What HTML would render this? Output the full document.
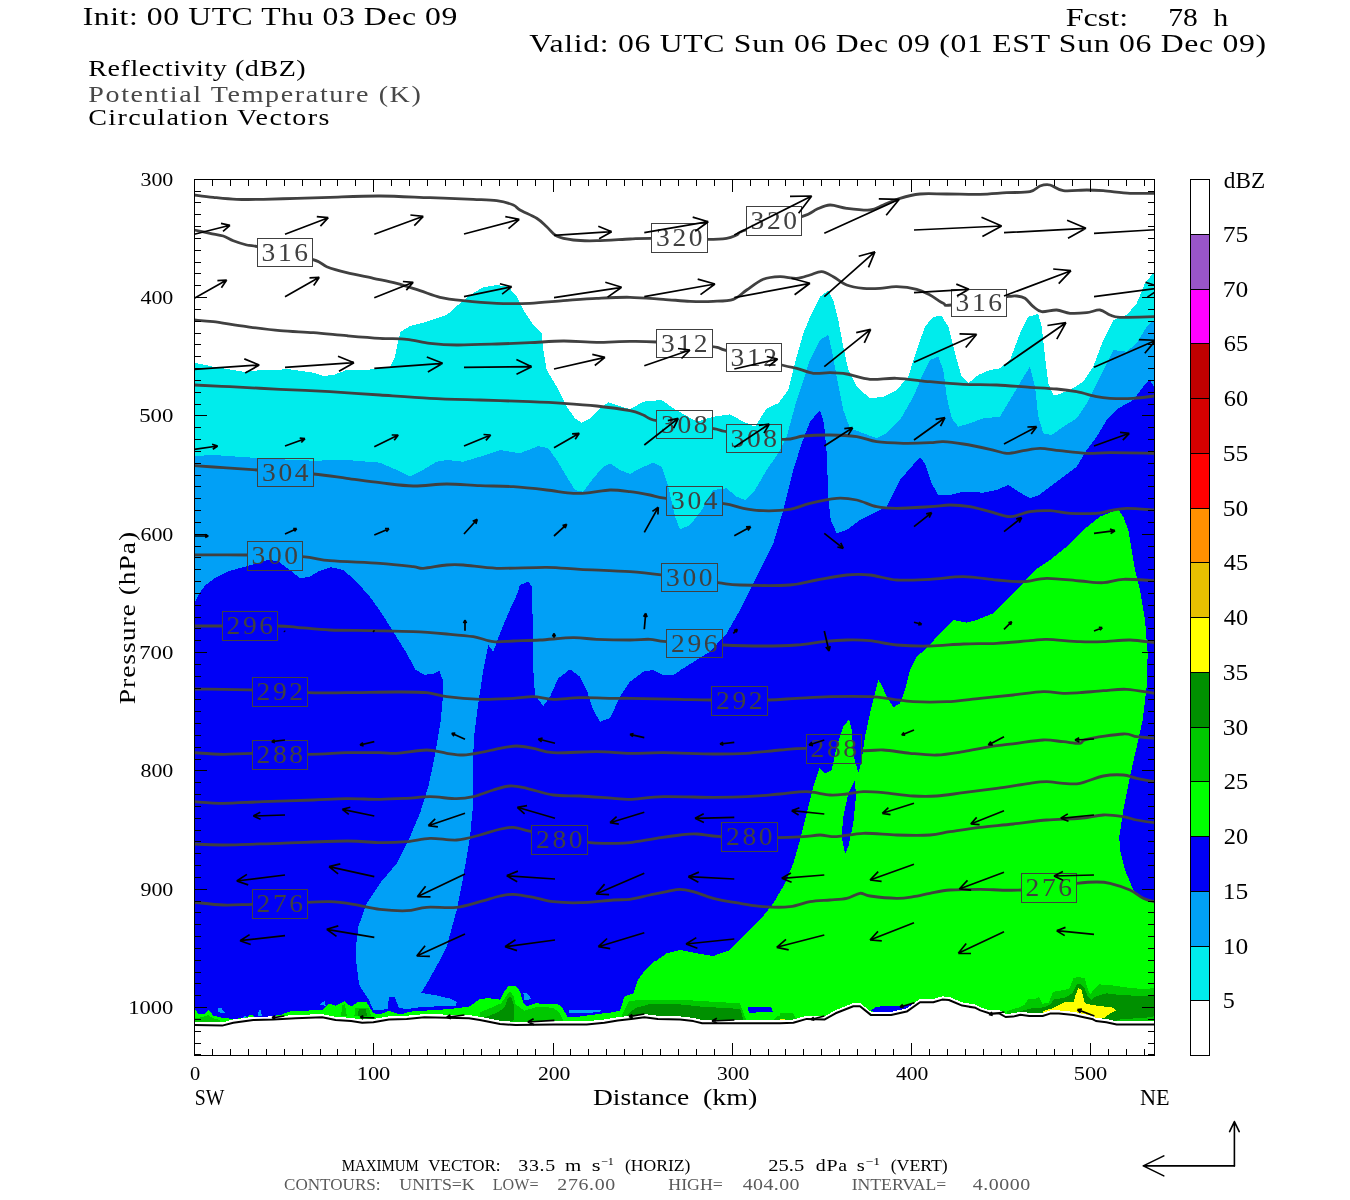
<!DOCTYPE html><html><head><meta charset="utf-8"><title>Cross section</title>
<style>html,body{margin:0;padding:0;background:#fff;overflow:hidden}svg{display:block}text{font-family:'Liberation Serif', serif;}</style></head><body>
<svg width="1350" height="1200" viewBox="0 0 1350 1200">
<rect width="1350" height="1200" fill="#fff"/>
<defs>
<clipPath id="fr"><rect x="194.5" y="179.5" width="960.0" height="876.0"/></clipPath>
<mask id="lm" maskUnits="userSpaceOnUse" x="0" y="0" width="1350" height="1200"><rect width="1350" height="1200" fill="#fff"/>
<rect x="257.3" y="238.7" width="55.0" height="28.0" fill="#000"/>
<rect x="257.3" y="458.3" width="56.0" height="27.7" fill="#000"/>
<rect x="247.7" y="541.7" width="54.7" height="28.3" fill="#000"/>
<rect x="651.0" y="223.3" width="56.3" height="28.7" fill="#000"/>
<rect x="746.0" y="206.7" width="55.7" height="28.3" fill="#000"/>
<rect x="951.7" y="289.3" width="55.0" height="27.3" fill="#000"/>
<rect x="656.7" y="329.3" width="55.7" height="28.0" fill="#000"/>
<rect x="726.7" y="343.3" width="55.0" height="27.7" fill="#000"/>
<rect x="656.7" y="410.0" width="55.7" height="28.3" fill="#000"/>
<rect x="726.7" y="424.0" width="55.0" height="28.7" fill="#000"/>
<rect x="666.0" y="486.7" width="56.3" height="28.3" fill="#000"/>
<rect x="222.3" y="611.7" width="55.3" height="28.7" fill="#000"/>
<rect x="252.7" y="677.3" width="55.0" height="28.7" fill="#000"/>
<rect x="252.7" y="740.7" width="55.0" height="28.7" fill="#000"/>
<rect x="531.7" y="825.7" width="55.7" height="28.7" fill="#000"/>
<rect x="252.7" y="889.3" width="55.0" height="29.3" fill="#000"/>
<rect x="661.7" y="563.3" width="56.0" height="28.3" fill="#000"/>
<rect x="666.7" y="629.3" width="55.7" height="28.0" fill="#000"/>
<rect x="711.7" y="686.7" width="56.0" height="28.7" fill="#000"/>
<rect x="806.7" y="734.3" width="55.0" height="29.0" fill="#000"/>
<rect x="721.0" y="822.7" width="56.7" height="29.0" fill="#000"/>
<rect x="1021.0" y="873.3" width="55.7" height="29.0" fill="#000"/>
</mask>
</defs>
<g clip-path="url(#fr)" shape-rendering="crispEdges">
<polygon fill="#00ECEC" points="194.5,362.7 194.3,362.7 213.3,366.7 243.3,371.7 263.3,370.0 290.0,369.3 313.3,372.7 323.3,376.0 333.3,375.0 346.7,370.0 366.7,370.0 390.0,366.7 395.0,356.7 398.3,340.0 400.7,331.7 410.0,326.0 426.7,321.7 446.7,315.0 460.0,303.3 470.0,295.0 483.3,287.3 496.7,285.0 508.3,286.7 516.7,296.7 523.3,310.0 533.3,325.0 541.7,333.3 543.3,350.0 546.7,370.0 556.7,386.7 566.7,406.7 575.0,418.3 581.7,422.7 590.0,418.3 598.3,410.0 608.3,402.3 616.7,405.0 630.0,409.3 643.3,401.7 661.7,400.0 673.3,408.3 696.7,421.7 713.3,416.7 730.0,414.3 743.3,421.7 755.0,426.7 766.7,408.3 778.3,403.3 788.3,390.0 796.7,356.7 803.3,333.3 811.7,313.3 820.0,296.7 828.3,290.7 833.3,300.0 838.3,320.0 843.3,346.7 848.3,370.0 856.7,386.7 870.0,398.3 883.3,396.7 896.7,390.0 908.3,376.7 916.7,350.0 925.0,326.7 933.3,316.7 941.7,316.0 948.3,326.7 955.0,353.3 961.7,376.7 968.3,383.3 978.3,375.0 990.0,370.0 1000.0,368.3 1010.0,360.0 1020.0,333.3 1028.3,316.7 1038.3,314.0 1041.7,326.7 1045.0,356.7 1048.3,383.3 1053.3,395.0 1056.7,395.0 1070.0,390.0 1083.3,381.7 1093.3,366.7 1103.3,340.0 1113.3,320.0 1126.7,315.0 1136.7,303.3 1145.0,283.3 1151.7,275.0 1154.3,273.3 1154.5,273.3 1154.5,1060.5 194.5,1060.5"/>
<polygon fill="#01A0F6" points="194.5,456.0 194.3,456.0 213.3,455.0 246.7,457.3 280.0,459.3 313.3,460.7 346.7,460.0 380.0,462.7 396.7,470.0 410.0,476.7 420.0,471.7 436.7,461.7 446.7,460.0 463.3,461.7 480.0,456.7 500.0,450.0 520.0,453.3 538.3,446.0 548.3,448.3 556.7,460.0 566.7,476.7 575.0,490.0 583.3,491.7 593.3,478.3 603.3,466.7 610.0,463.3 620.0,470.0 630.0,474.0 640.0,468.3 653.3,462.7 661.7,466.7 668.3,486.7 675.0,516.7 680.0,529.3 690.0,525.0 701.7,510.0 713.3,490.0 726.7,488.3 736.7,496.7 745.0,500.0 755.0,490.0 766.7,470.0 778.3,453.3 786.7,436.7 796.7,400.0 810.0,360.0 820.0,340.0 828.3,335.0 831.7,350.0 836.7,376.7 843.3,410.0 850.0,428.3 863.3,433.3 876.7,438.3 886.7,433.3 900.0,420.0 913.3,396.7 923.3,373.3 930.0,360.0 938.3,356.7 943.3,370.0 946.7,396.7 951.7,418.3 958.3,426.7 970.0,423.3 983.3,418.3 1000.0,416.7 1010.0,400.0 1021.7,380.0 1030.0,366.7 1035.0,386.7 1038.3,416.7 1043.3,433.3 1051.7,435.0 1063.3,426.7 1076.7,418.3 1086.7,403.3 1096.7,383.3 1105.0,366.7 1113.3,350.0 1126.7,351.7 1136.7,343.3 1146.7,326.7 1154.3,320.0 1154.5,320.0 1154.5,1060.5 194.5,1060.5"/>
<polygon fill="#0000F6" points="194.5,601.7 195.1,601.7 198.9,594.2 205.2,585.3 215.3,577.8 227.9,571.5 243.0,567.2 255.6,563.9 268.2,559.6 278.2,561.4 288.3,569.0 299.6,577.8 308.5,577.3 318.5,571.5 331.1,567.2 343.7,570.2 356.3,581.6 368.9,595.4 381.5,613.0 394.1,633.2 406.7,653.4 415.5,669.7 424.3,674.8 434.4,673.5 439.4,671.0 443.2,681.1 442.5,701.2 440.7,721.4 436.9,744.0 433.3,763.3 428.3,786.7 420.0,813.3 410.0,836.7 396.7,863.3 380.0,883.3 366.7,903.3 358.3,926.7 356.0,946.7 356.7,970.0 357.8,973.3 358.9,984.4 364.4,993.3 368.9,1000.0 373.3,1010.0 387.8,1009.3 388.9,996.7 394.4,996.7 398.9,1007.8 406.7,1009.3 420.0,1007.1 455.6,1005.6 456.7,1002.2 451.1,998.9 437.8,995.6 421.1,992.9 428.9,980.0 440.0,960.0 446.7,946.7 456.7,910.0 463.3,876.7 470.0,836.7 473.3,803.3 472.7,770.0 474.0,736.7 478.3,703.3 483.3,670.0 488.3,645.0 493.3,651.7 500.0,633.3 508.3,613.3 516.7,595.0 520.0,585.0 528.3,581.7 531.7,586.7 532.7,620.0 533.3,670.0 535.0,695.0 543.3,706.0 550.0,696.7 558.3,678.3 570.0,669.3 580.0,676.7 586.7,690.0 593.3,710.0 600.0,721.7 610.0,718.3 620.0,696.7 630.0,681.7 643.3,671.7 653.3,670.0 663.3,675.0 673.3,675.0 683.3,668.3 696.7,660.0 710.0,651.7 726.7,633.3 740.0,610.0 750.0,590.0 760.0,570.0 773.3,543.3 783.3,510.0 793.3,470.0 801.7,443.3 810.0,421.7 820.0,410.0 824.0,423.3 826.7,453.3 828.3,496.7 830.7,520.0 836.7,533.3 846.7,530.0 860.0,520.0 876.7,511.7 886.7,506.7 893.3,493.3 900.0,480.0 910.0,468.3 920.0,457.3 925.0,463.3 931.7,483.3 938.3,495.0 950.0,495.0 963.3,491.7 983.3,492.7 996.7,490.0 1008.3,485.0 1018.3,491.7 1030.0,498.3 1040.0,495.0 1043.3,491.7 1056.7,481.7 1076.7,466.7 1086.7,450.0 1096.7,436.7 1106.7,420.0 1118.3,408.3 1133.3,400.0 1143.3,386.7 1149.3,379.3 1154.3,386.7 1154.5,386.7 1154.5,1060.5 194.5,1060.5"/>
<polygon fill="#01A0F6" points="217.8,1008.4 221.1,1008.0 225.6,1012.9 218.2,1012.4"/>
<polygon fill="#01A0F6" points="319.6,1004.4 324.4,1000.9 325.8,1005.8"/>
<polygon fill="#01A0F6" points="257.8,1015.6 258.9,1010.0 260.7,1010.0 261.8,1015.6"/>
<polygon fill="#01A0F6" points="242.2,1018.2 244.9,1015.6 246.7,1018.2"/>
<polygon fill="#01A0F6" points="523.3,992.9 527.1,993.3 531.6,998.9 524.4,1000.4"/>
<polygon fill="#01A0F6" points="568.9,1010.2 601.1,1010.2 600.0,1012.4 569.3,1012.9"/>
<polygon fill="#00FF00" points="194.5,1008.9 194.4,1008.9 198.9,1014.4 204.4,1014.4 208.9,1010.0 213.3,1015.6 224.4,1018.2 235.6,1018.9 246.7,1017.3 251.1,1014.4 255.6,1017.3 268.9,1016.7 282.2,1014.4 288.9,1011.6 304.4,1010.7 322.2,1010.0 328.9,1003.3 335.6,1005.6 344.4,1001.1 351.1,1006.7 357.8,1002.2 366.7,1002.2 373.3,1013.3 380.0,1014.4 388.9,1010.7 400.0,1014.4 411.1,1011.6 424.4,1010.7 446.7,1009.3 460.0,1007.8 468.9,1006.7 475.6,1002.2 480.0,998.9 488.9,998.2 500.0,999.6 504.4,991.1 508.9,985.6 515.6,986.2 520.0,991.1 523.3,1003.3 526.7,1006.2 535.6,1003.3 546.7,1004.0 557.8,1004.0 562.2,1007.8 567.8,1017.3 573.3,1017.3 586.7,1015.6 600.0,1013.8 613.3,1012.2 620.0,1010.7 624.4,996.7 633.3,993.3 637.8,980.0 644.4,971.1 655.6,960.0 655.0,961.7 666.7,953.3 680.0,950.0 696.7,953.3 713.3,956.0 730.0,950.0 743.3,936.7 760.0,920.0 773.3,903.3 785.0,883.3 793.3,863.3 800.0,840.0 806.7,813.3 813.3,786.7 819.3,768.3 825.0,773.3 831.7,770.0 836.7,746.7 843.3,726.7 849.0,719.3 851.7,730.0 854.0,756.7 858.3,773.3 861.7,760.0 865.0,736.7 870.0,713.3 875.0,693.3 878.3,680.0 881.7,685.0 886.7,696.7 893.3,707.3 900.0,703.3 905.0,690.0 910.0,670.0 916.7,656.7 926.7,648.3 940.0,633.3 953.3,620.0 966.7,622.7 976.7,620.0 993.3,613.3 1006.7,600.0 1020.0,586.7 1035.0,570.0 1050.0,560.0 1066.7,546.7 1083.3,530.0 1100.0,516.7 1118.3,509.3 1123.3,516.7 1128.3,530.0 1131.7,550.0 1135.0,570.0 1140.0,590.0 1145.0,620.0 1147.7,653.3 1146.7,686.7 1142.7,720.0 1136.7,746.7 1130.0,776.7 1123.3,810.0 1119.3,836.7 1120.0,850.0 1125.0,870.0 1133.3,890.0 1143.3,898.3 1154.3,903.3 1154.5,903.3 1154.5,1060.5 194.5,1060.5"/>
<polygon fill="#0000F6" points="855.0,780.0 856.0,796.7 853.3,823.3 848.3,846.7 845.0,854.0 841.7,836.7 843.3,816.7 848.3,793.3"/>
<polygon fill="#0000F6" points="747.8,1006.7 771.1,1007.1 772.9,1011.6 748.9,1012.9"/>
<polygon fill="#0000F6" points="871.1,1010.7 875.6,1006.7 900.0,1005.6 913.3,1004.0 906.7,1010.0 900.0,1012.2 875.6,1012.9"/>
<polygon fill="#00C800" points="194.4,1018.2 202.2,1017.3 207.8,1015.1 213.3,1018.2 220.0,1020.0 220.0,1026.7 194.4,1026.7"/>
<polygon fill="#00C800" points="341.1,1015.6 342.2,1005.6 344.9,1004.0 346.7,1015.6"/>
<polygon fill="#00C800" points="354.4,1015.6 355.6,1007.8 368.9,1007.8 371.1,1015.6"/>
<polygon fill="#00C800" points="480.0,1012.2 491.1,1007.8 501.1,1003.3 506.7,995.6 510.0,991.1 513.3,995.6 515.6,1004.4 524.4,1010.7 537.8,1006.7 553.3,1007.8 558.9,1012.2 562.7,1019.6 562.7,1026.7 480.0,1026.7"/>
<polygon fill="#00C800" points="622.2,1014.4 628.9,1001.1 644.4,999.6 680.0,999.6 702.2,1001.1 740.0,1003.3 744.4,1015.6 746.7,1021.1 746.7,1026.7 622.2,1026.7"/>
<polygon fill="#00C800" points="780.0,1013.3 793.3,1013.3 796.0,1018.9 796.0,1026.7 780.0,1026.7"/>
<polygon fill="#00C800" points="773.3,1020.0 776.7,1016.7 780.0,1015.6 780.0,1026.7 773.3,1026.7"/>
<polygon fill="#00C800" points="1007.0,1011.1 1018.9,1007.4 1024.8,1004.4 1028.5,998.8 1035.2,999.3 1038.9,997.0 1042.6,1003.7 1048.5,1003.0 1053.0,991.9 1061.9,990.4 1069.3,988.9 1073.7,977.8 1079.6,977.0 1084.8,978.5 1087.0,986.7 1090.0,994.8 1094.4,988.9 1098.9,984.4 1110.7,985.2 1125.6,987.4 1140.4,988.9 1147.8,988.9 1154.4,987.9 1154.4,1028.1 1007.0,1028.1"/>
<polygon fill="#009000" points="357.8,1015.6 358.9,1009.3 365.6,1009.3 367.1,1015.6"/>
<polygon fill="#009000" points="484.4,1017.8 497.8,1012.2 504.4,1007.8 507.8,997.8 511.1,996.7 513.8,1004.4 514.4,1013.3 513.3,1021.1 484.4,1024.4"/>
<polygon fill="#009000" points="626.7,1015.6 635.6,1007.8 648.9,1004.4 680.0,1004.4 702.2,1006.7 740.0,1008.9 743.3,1018.9 743.3,1026.7 626.7,1026.7"/>
<polygon fill="#009000" points="1020.4,1011.1 1032.2,1008.1 1044.1,1007.4 1050.0,1004.4 1054.4,999.3 1064.8,997.8 1072.2,993.3 1076.7,984.4 1080.4,983.4 1084.1,987.4 1087.8,996.3 1091.5,1000.0 1095.9,996.3 1106.3,993.3 1118.1,994.8 1133.0,995.6 1154.4,995.6 1154.4,1016.3 1144.8,1017.8 1133.0,1018.5 1121.1,1019.3 1116.7,1020.0 1116.7,1028.1 1020.4,1028.1"/>
<polygon fill="#FFFF00" points="1042.6,1011.1 1053.0,1008.1 1064.8,1002.2 1073.7,1002.2 1075.9,994.1 1078.1,988.4 1081.1,988.9 1083.3,997.0 1084.8,1003.3 1093.0,1005.2 1112.2,1007.4 1115.9,1010.4 1109.3,1014.1 1104.8,1017.5 1095.9,1019.3 1082.6,1016.3 1073.7,1014.8 1058.9,1014.8 1042.6,1014.8"/>
<polygon fill="#FFFF00" points="780.0,1019.1 786.7,1019.6 786.7,1024.4 780.0,1024.4"/>
<polygon fill="#fff" points="192.5,1021.7 194.4,1021.7 222.2,1022.4 233.3,1019.5 253.3,1016.8 273.3,1016.4 295.6,1015.0 322.2,1014.1 335.6,1016.8 351.1,1017.9 362.2,1019.5 373.3,1019.0 388.9,1016.4 406.7,1015.7 424.4,1014.1 446.7,1014.6 468.9,1015.0 480.0,1016.8 500.0,1020.8 515.6,1021.9 553.3,1021.2 586.7,1021.2 604.4,1019.5 617.8,1017.2 631.1,1015.7 644.4,1014.1 657.8,1015.7 680.0,1016.4 693.3,1017.9 702.2,1020.1 724.4,1020.1 780.0,1020.1 793.3,1019.5 806.7,1015.7 824.4,1016.4 835.6,1010.1 853.3,1003.0 860.0,1003.0 871.1,1011.9 891.1,1011.9 906.7,1008.4 920.0,999.0 933.3,999.0 942.2,996.4 948.9,996.8 962.2,1002.4 975.6,1004.6 970.0,1003.9 974.4,1004.2 980.4,1007.2 989.3,1010.1 999.6,1010.4 1005.6,1013.8 1013.0,1013.4 1020.4,1011.6 1029.3,1012.8 1042.6,1012.8 1050.0,1010.4 1058.9,1010.4 1073.7,1011.9 1082.6,1013.8 1093.0,1016.1 1095.9,1017.8 1106.3,1019.0 1116.7,1021.2 1154.4,1021.2 1156.5,1021.2 1156.5,1060.5 192.5,1060.5"/>
</g>
<g clip-path="url(#fr)">
<polyline fill="none" stroke="#000" stroke-width="2" stroke-linejoin="round" points="192.5,1024.9 194.4,1024.9 222.2,1025.6 233.3,1022.7 253.3,1020.0 273.3,1019.6 295.6,1018.2 322.2,1017.3 335.6,1020.0 351.1,1021.1 362.2,1022.7 373.3,1022.2 388.9,1019.6 406.7,1018.9 424.4,1017.3 446.7,1017.8 468.9,1018.2 480.0,1020.0 500.0,1024.0 515.6,1025.1 553.3,1024.4 586.7,1024.4 604.4,1022.7 617.8,1020.4 631.1,1018.9 644.4,1017.3 657.8,1018.9 680.0,1019.6 693.3,1021.1 702.2,1023.3 724.4,1023.3 780.0,1023.3 793.3,1022.7 806.7,1018.9 824.4,1019.6 835.6,1013.3 853.3,1006.2 860.0,1006.2 871.1,1015.1 891.1,1015.1 906.7,1011.6 920.0,1002.2 933.3,1002.2 942.2,999.6 948.9,1000.0 962.2,1005.6 975.6,1007.8 970.0,1007.1 974.4,1007.4 980.4,1010.4 989.3,1013.3 999.6,1013.6 1005.6,1017.0 1013.0,1016.6 1020.4,1014.8 1029.3,1016.0 1042.6,1016.0 1050.0,1013.6 1058.9,1013.6 1073.7,1015.1 1082.6,1017.0 1093.0,1019.3 1095.9,1021.0 1106.3,1022.2 1116.7,1024.4 1154.4,1024.4 1156.5,1024.4"/>
</g>
<g clip-path="url(#fr)"><g mask="url(#lm)" fill="none" stroke="#404040" stroke-width="2.8" stroke-linejoin="round">
<path d="M193.5 195.0C193.6 195.0 191.1 194.6 194.3 195.0C197.5 195.4 206.5 196.6 213.3 197.3C220.1 198.0 228.7 199.0 236.7 199.3C244.7 199.6 253.7 199.5 263.3 199.3C272.9 199.1 286.0 198.6 296.7 198.3C307.4 198.0 316.7 197.7 330.0 197.3C343.3 196.9 364.0 195.9 380.0 196.0C396.0 196.1 415.1 197.2 430.0 197.7C444.9 198.2 462.6 198.8 473.3 199.3C484.0 199.8 490.3 199.8 496.7 200.7C503.1 201.6 509.6 203.5 513.3 205.0C517.0 206.5 516.3 207.9 520.0 210.0C523.7 212.1 532.4 215.6 536.7 218.3C541.0 221.0 543.5 223.9 546.7 226.7C549.9 229.5 552.4 233.9 556.7 236.0C561.0 238.1 566.9 239.2 573.3 240.0C579.7 240.8 587.6 240.9 596.7 240.7C605.8 240.5 621.3 239.4 630.0 239.0C638.7 238.6 638.6 238.3 651.0 238.3C663.4 238.3 695.2 239.3 707.3 239.3C719.4 239.3 722.0 239.0 726.7 238.3C731.4 237.6 733.6 236.3 736.7 235.0C739.8 233.7 735.6 232.9 746.0 230.0C756.4 227.1 790.4 220.0 801.7 216.7C813.0 213.4 812.2 211.2 816.7 209.3C821.2 207.4 825.2 205.2 830.0 205.0C834.8 204.8 840.3 207.5 846.7 208.3C853.1 209.1 864.1 210.5 870.0 210.0C875.9 209.5 878.5 206.9 883.3 205.0C888.1 203.1 894.1 200.1 900.0 198.3C905.9 196.5 912.5 194.7 920.0 194.0C927.5 193.3 937.1 194.0 946.7 194.0C956.3 194.0 970.4 194.5 980.0 194.3C989.6 194.1 998.7 193.1 1006.7 192.7C1014.7 192.3 1024.7 192.8 1030.0 191.7C1035.3 190.6 1036.8 187.1 1040.0 186.0C1043.2 184.9 1046.3 184.2 1050.0 185.0C1053.7 185.8 1057.4 189.9 1063.3 190.7C1069.2 191.5 1080.3 190.0 1086.7 190.0C1093.1 190.0 1096.4 190.2 1103.3 190.7C1110.2 191.2 1121.8 192.9 1130.0 193.3C1138.2 193.7 1150.2 193.3 1154.3 193.3C1158.4 193.3 1155.3 193.3 1155.5 193.3"/>
<path d="M193.5 230.0C193.6 230.0 191.7 229.5 194.3 230.0C196.9 230.5 205.4 232.3 210.0 233.3C214.6 234.3 219.6 234.8 223.3 236.0C227.0 237.2 229.6 239.3 233.3 240.7C237.0 242.1 242.9 244.0 246.7 245.0C250.5 246.0 246.8 244.4 257.3 246.7C267.8 249.0 301.2 256.1 312.3 259.3C323.4 262.5 321.2 264.6 326.7 266.7C332.2 268.8 339.2 270.8 346.7 272.7C354.2 274.6 365.3 276.6 373.3 278.3C381.3 280.0 389.2 281.3 396.7 283.3C404.2 285.3 413.1 288.5 420.0 290.7C426.9 292.9 433.1 295.7 440.0 297.3C446.9 298.9 454.2 299.7 463.3 300.7C472.4 301.7 486.0 302.9 496.7 303.3C507.4 303.7 519.3 303.7 530.0 303.3C540.7 302.9 552.6 301.5 563.3 300.7C574.0 299.9 586.0 298.8 596.7 298.3C607.4 297.8 619.3 297.1 630.0 297.3C640.7 297.5 653.7 298.7 663.3 299.3C672.9 299.9 682.0 301.0 690.0 301.3C698.0 301.6 706.4 301.6 713.3 301.3C720.2 301.0 728.0 301.1 733.3 299.3C738.6 297.5 741.9 293.2 746.7 290.0C751.5 286.8 758.0 281.4 763.3 279.3C768.6 277.2 774.7 276.9 780.0 276.7C785.3 276.5 791.9 278.6 796.7 278.3C801.5 278.0 806.0 276.1 810.0 275.0C814.0 273.9 818.0 271.4 821.7 271.7C825.4 272.0 829.3 274.6 833.3 276.7C837.3 278.8 841.9 283.1 846.7 285.0C851.5 286.9 858.0 287.8 863.3 288.3C868.6 288.8 874.7 288.6 880.0 288.3C885.3 288.0 890.8 286.5 896.7 286.7C902.6 286.9 911.4 288.0 916.7 289.3C922.0 290.6 925.7 292.8 930.0 295.0C934.3 297.2 939.8 301.7 943.3 303.3C946.8 304.9 941.6 306.1 951.7 305.0C961.8 303.9 996.3 298.1 1006.7 296.7C1017.1 295.3 1013.8 295.7 1016.7 296.0C1019.6 296.3 1022.3 296.6 1025.0 298.3C1027.7 300.0 1030.6 304.6 1033.3 306.7C1036.0 308.8 1038.0 311.2 1041.7 311.7C1045.4 312.2 1052.2 309.7 1056.7 310.0C1061.2 310.3 1065.2 312.9 1070.0 313.3C1074.8 313.7 1081.9 313.2 1086.7 312.7C1091.5 312.2 1096.3 309.6 1100.0 310.0C1103.7 310.4 1106.8 313.8 1110.0 315.0C1113.2 316.2 1112.9 317.0 1120.0 317.3C1127.1 317.6 1148.6 316.8 1154.3 316.7C1160.0 316.6 1155.3 316.7 1155.5 316.7"/>
<path d="M193.5 320.0C193.6 320.0 191.1 319.7 194.3 320.0C197.5 320.3 204.9 320.6 213.3 321.7C221.7 322.8 236.0 325.3 246.7 326.7C257.4 328.1 269.3 329.7 280.0 330.7C290.7 331.7 302.6 331.9 313.3 332.7C324.0 333.5 336.0 334.8 346.7 335.7C357.4 336.6 370.4 337.7 380.0 338.3C389.6 338.9 398.7 338.5 406.7 339.3C414.7 340.1 422.0 342.4 430.0 343.3C438.0 344.2 446.0 344.9 456.7 345.0C467.4 345.1 485.0 344.4 496.7 344.0C508.4 343.6 519.3 343.2 530.0 342.7C540.7 342.2 552.6 341.1 563.3 341.0C574.0 340.9 586.0 342.3 596.7 342.3C607.4 342.3 620.4 341.3 630.0 341.3C639.6 341.3 643.5 341.1 656.7 342.0C669.9 342.9 701.1 345.3 712.3 346.7C723.5 348.1 715.6 347.8 726.7 350.7C737.8 353.6 770.5 362.2 781.7 365.0C792.9 367.8 791.6 367.0 796.7 368.3C801.8 369.6 808.0 372.6 813.3 373.3C818.6 374.0 824.7 372.6 830.0 372.7C835.3 372.8 840.3 372.9 846.7 374.0C853.1 375.1 862.0 378.6 870.0 379.3C878.0 380.0 887.1 377.9 896.7 378.3C906.3 378.7 919.3 380.7 930.0 381.7C940.7 382.7 952.6 383.8 963.3 384.3C974.0 384.8 986.0 384.5 996.7 385.0C1007.4 385.5 1020.4 386.7 1030.0 387.3C1039.6 387.9 1049.2 388.3 1056.7 389.0C1064.2 389.7 1070.3 390.5 1076.7 391.7C1083.1 392.9 1091.4 395.6 1096.7 396.7C1102.0 397.8 1104.1 398.0 1110.0 398.3C1115.9 398.6 1126.2 398.7 1133.3 398.3C1140.4 397.9 1150.7 396.4 1154.3 396.0C1157.9 395.6 1155.3 396.0 1155.5 396.0"/>
<path d="M193.5 385.0C193.6 385.0 188.5 384.7 194.3 385.0C200.1 385.3 216.3 386.0 230.0 386.7C243.7 387.4 264.0 388.5 280.0 389.3C296.0 390.1 314.0 390.8 330.0 391.7C346.0 392.6 364.0 393.9 380.0 395.0C396.0 396.1 414.0 397.5 430.0 398.3C446.0 399.1 464.0 399.5 480.0 400.0C496.0 400.5 516.7 401.2 530.0 401.7C543.3 402.2 552.6 402.6 563.3 403.3C574.0 404.0 586.0 404.8 596.7 406.0C607.4 407.2 622.5 409.3 630.0 410.7C637.5 412.1 639.0 413.4 643.3 415.0C647.6 416.6 645.7 418.6 656.7 420.7C667.7 422.8 701.1 426.5 712.3 428.3C723.5 430.1 715.6 429.9 726.7 431.7C737.8 433.5 769.4 438.6 781.7 439.3C794.0 440.0 795.6 436.7 803.3 436.0C811.0 435.3 821.5 434.9 830.0 435.0C838.5 435.1 849.2 435.6 856.7 436.7C864.2 437.8 869.2 440.6 876.7 441.7C884.2 442.8 894.8 443.1 903.3 443.3C911.8 443.5 923.6 443.0 930.0 442.7C936.4 442.4 938.0 441.5 943.3 441.7C948.6 441.9 955.8 442.8 963.3 444.0C970.8 445.2 983.1 447.8 990.0 449.3C996.9 450.8 1001.4 453.1 1006.7 453.3C1012.0 453.5 1018.0 451.5 1023.3 450.7C1028.6 449.9 1034.1 448.3 1040.0 448.3C1045.9 448.3 1052.5 449.9 1060.0 450.7C1067.5 451.5 1078.7 453.0 1086.7 453.3C1094.7 453.6 1099.2 452.7 1110.0 452.7C1120.8 452.7 1147.0 453.2 1154.3 453.3C1161.6 453.4 1155.3 453.3 1155.5 453.3"/>
<path d="M193.5 465.7C193.6 465.7 189.5 465.4 194.3 465.7C199.1 466.0 213.2 467.0 223.3 467.7C233.4 468.4 242.9 469.0 257.3 470.0C271.7 471.0 299.0 472.7 313.3 474.0C327.6 475.3 336.0 476.9 346.7 478.3C357.4 479.7 369.3 481.5 380.0 482.7C390.7 483.9 402.6 485.8 413.3 486.0C424.0 486.2 436.0 484.0 446.7 484.0C457.4 484.0 469.3 485.3 480.0 485.7C490.7 486.1 502.6 486.0 513.3 486.7C524.0 487.4 537.1 488.9 546.7 490.0C556.3 491.1 566.4 492.9 573.3 493.3C580.2 493.7 584.1 493.2 590.0 492.7C595.9 492.2 603.6 490.2 610.0 490.0C616.4 489.8 623.6 490.9 630.0 491.7C636.4 492.5 644.2 493.9 650.0 495.0C655.8 496.1 654.4 497.0 666.0 498.3C677.6 499.6 709.9 501.7 722.3 503.3C734.7 504.9 736.7 507.1 743.3 508.3C749.9 509.5 755.8 510.5 763.3 510.7C770.8 510.9 782.5 510.5 790.0 509.3C797.5 508.1 802.5 505.1 810.0 503.3C817.5 501.5 829.2 498.8 836.7 498.3C844.2 497.8 850.3 498.7 856.7 500.0C863.1 501.3 870.3 505.4 876.7 506.7C883.1 508.0 888.2 508.3 896.7 508.3C905.2 508.3 921.5 507.2 930.0 506.7C938.5 506.2 943.6 505.0 950.0 505.0C956.4 505.0 963.6 505.6 970.0 506.7C976.4 507.8 983.6 510.1 990.0 511.7C996.4 513.3 1003.6 516.7 1010.0 516.7C1016.4 516.7 1023.6 512.7 1030.0 511.7C1036.4 510.7 1043.6 510.4 1050.0 510.7C1056.4 511.0 1062.5 512.9 1070.0 513.3C1077.5 513.7 1090.3 513.7 1096.7 513.3C1103.1 512.9 1105.2 511.5 1110.0 510.7C1114.8 509.9 1119.6 508.4 1126.7 508.3C1133.8 508.2 1149.7 509.7 1154.3 510.0C1158.9 510.3 1155.3 510.0 1155.5 510.0"/>
<path d="M193.5 555.0C193.6 555.0 185.8 555.0 194.3 555.0C202.8 555.0 229.4 554.7 246.7 555.0C264.0 555.3 289.0 555.8 302.3 556.7C315.6 557.6 317.6 559.6 330.0 560.7C342.4 561.8 366.7 562.3 380.0 563.3C393.3 564.3 406.4 565.9 413.3 566.7C420.2 567.5 418.0 568.6 423.3 568.3C428.6 568.0 440.3 565.5 446.7 565.0C453.1 564.5 455.3 564.5 463.3 565.0C471.3 565.5 483.4 567.9 496.7 568.3C510.0 568.7 533.4 567.1 546.7 567.3C560.0 567.5 566.7 568.6 580.0 569.3C593.3 570.0 616.9 570.8 630.0 571.7C643.1 572.6 647.7 573.2 661.7 575.0C675.7 576.8 705.2 581.1 717.7 582.7C730.2 584.3 728.4 584.6 740.0 585.0C751.6 585.4 777.7 585.8 790.0 585.0C802.3 584.2 807.6 581.6 816.7 580.0C825.8 578.4 838.2 575.8 846.7 575.0C855.2 574.2 862.0 574.2 870.0 575.0C878.0 575.8 887.1 579.3 896.7 580.0C906.3 580.7 919.3 579.8 930.0 579.3C940.7 578.8 952.6 576.6 963.3 576.7C974.0 576.8 987.1 579.2 996.7 580.0C1006.3 580.8 1015.3 582.0 1023.3 581.7C1031.3 581.4 1037.6 578.4 1046.7 578.3C1055.8 578.2 1070.9 580.3 1080.0 581.0C1089.1 581.7 1096.4 583.0 1103.3 582.7C1110.2 582.4 1115.1 579.6 1123.3 579.3C1131.5 579.0 1149.1 580.5 1154.3 580.7C1159.5 580.9 1155.3 580.7 1155.5 580.7"/>
<path d="M193.5 626.0C193.6 626.0 189.7 626.0 194.3 626.0C198.9 626.0 209.0 626.0 222.3 626.0C235.6 626.0 265.8 625.8 277.7 626.0C289.6 626.2 288.3 626.7 296.7 627.3C305.1 627.9 317.7 629.5 330.0 630.0C342.3 630.5 360.0 630.4 373.3 630.7C386.6 631.0 401.6 631.2 413.3 631.7C425.0 632.2 437.1 633.2 446.7 634.0C456.3 634.8 465.8 635.5 473.3 636.7C480.8 637.9 486.9 641.0 493.3 641.7C499.7 642.4 505.8 641.3 513.3 641.0C520.8 640.7 530.4 640.5 540.0 640.0C549.6 639.5 564.2 637.8 573.3 637.7C582.4 637.6 587.6 638.9 596.7 639.3C605.8 639.7 621.5 640.0 630.0 640.0C638.5 640.0 644.1 639.0 650.0 639.3C655.9 639.6 655.1 640.8 666.7 641.7C678.3 642.6 706.8 644.3 722.3 645.0C737.8 645.7 751.4 646.0 763.3 646.0C775.2 646.0 787.1 645.7 796.7 645.0C806.3 644.3 815.3 642.5 823.3 641.7C831.3 640.9 839.2 640.2 846.7 640.0C854.2 639.8 862.0 639.9 870.0 640.7C878.0 641.5 887.1 644.2 896.7 645.0C906.3 645.8 919.3 646.2 930.0 646.0C940.7 645.8 952.6 644.4 963.3 644.0C974.0 643.6 986.0 643.8 996.7 643.3C1007.4 642.8 1022.0 641.3 1030.0 640.7C1038.0 640.1 1038.7 639.1 1046.7 639.3C1054.7 639.5 1070.9 641.3 1080.0 641.7C1089.1 642.1 1095.3 642.0 1103.3 641.7C1111.3 641.4 1121.8 639.8 1130.0 640.0C1138.2 640.2 1150.2 642.3 1154.3 642.7C1158.4 643.1 1155.3 642.7 1155.5 642.7"/>
<path d="M193.5 689.0C193.6 689.0 184.8 688.8 194.3 689.0C203.8 689.2 234.6 689.4 252.7 690.0C270.8 690.6 292.7 692.3 307.7 692.7C322.7 693.1 332.5 692.8 346.7 692.7C360.9 692.6 383.9 692.0 396.7 692.0C409.5 692.0 418.7 691.9 426.7 692.7C434.7 693.5 438.2 695.6 446.7 696.7C455.2 697.8 469.3 699.0 480.0 699.3C490.7 699.6 504.8 698.7 513.3 698.3C521.8 697.9 526.9 696.5 533.3 696.7C539.7 696.9 545.8 699.1 553.3 699.3C560.8 699.5 570.4 697.9 580.0 697.7C589.6 697.5 605.3 698.2 613.3 698.3C621.3 698.4 619.3 698.1 630.0 698.3C640.7 698.5 666.9 699.0 680.0 699.3C693.1 699.6 697.7 699.9 711.7 700.0C725.7 700.1 754.1 700.3 767.7 700.0C781.3 699.7 786.7 698.8 796.7 698.3C806.7 697.8 818.3 697.0 830.0 696.7C841.7 696.4 859.9 696.3 870.0 696.7C880.1 697.1 886.4 698.5 893.3 699.3C900.2 700.1 904.8 701.3 913.3 701.7C921.8 702.1 936.0 702.2 946.7 701.7C957.4 701.2 969.3 699.4 980.0 698.3C990.7 697.2 1003.2 696.1 1013.3 695.0C1023.4 693.9 1035.3 692.0 1043.3 691.7C1051.3 691.4 1057.4 693.1 1063.3 693.3C1069.2 693.5 1073.6 693.1 1080.0 692.7C1086.4 692.3 1095.8 691.2 1103.3 690.7C1110.8 690.2 1118.5 688.9 1126.7 689.3C1134.9 689.7 1149.7 692.7 1154.3 693.3C1158.9 693.9 1155.3 693.3 1155.5 693.3"/>
<path d="M193.5 752.7C193.6 752.7 189.5 752.4 194.3 752.7C199.1 753.0 214.0 754.2 223.3 754.3C232.6 754.4 239.2 753.3 252.7 753.3C266.2 753.3 292.7 754.4 307.7 754.3C322.7 754.2 335.1 753.0 346.7 752.7C358.3 752.4 372.0 752.6 380.0 752.7C388.0 752.8 389.2 753.7 396.7 753.3C404.2 752.9 418.7 750.0 426.7 750.0C434.7 750.0 440.8 752.5 446.7 753.3C452.6 754.1 458.0 755.1 463.3 755.0C468.6 754.9 474.1 753.8 480.0 752.7C485.9 751.6 494.1 749.4 500.0 748.3C505.9 747.2 511.4 746.0 516.7 746.0C522.0 746.0 527.4 747.2 533.3 748.3C539.2 749.4 543.2 752.2 553.3 752.7C563.4 753.2 584.4 751.6 596.7 751.7C609.0 751.8 619.3 753.1 630.0 753.3C640.7 753.5 650.0 752.6 663.3 752.7C676.6 752.8 700.0 753.9 713.3 754.0C726.6 754.1 736.0 753.9 746.7 753.3C757.4 752.7 770.4 750.8 780.0 750.0C789.6 749.2 793.6 748.2 806.7 748.3C819.8 748.4 849.4 750.4 861.7 750.7C874.0 751.0 875.6 749.6 883.3 750.0C891.0 750.4 901.5 752.5 910.0 753.3C918.5 754.1 928.2 755.3 936.7 755.0C945.2 754.7 954.8 753.0 963.3 751.7C971.8 750.4 981.5 748.0 990.0 746.7C998.5 745.4 1008.2 744.4 1016.7 743.3C1025.2 742.2 1035.8 740.3 1043.3 740.0C1050.8 739.7 1057.4 741.2 1063.3 741.7C1069.2 742.2 1076.3 743.7 1080.0 743.3C1083.7 742.9 1079.8 740.8 1086.7 739.3C1093.6 737.8 1115.3 734.4 1123.3 734.0C1131.3 733.6 1131.7 736.0 1136.7 736.7C1141.7 737.4 1151.3 738.0 1154.3 738.3C1157.3 738.6 1155.3 738.3 1155.5 738.3"/>
<path d="M193.5 801.7C193.6 801.7 189.5 801.4 194.3 801.7C199.1 802.0 212.3 803.3 223.3 803.3C234.3 803.3 248.9 802.2 263.3 801.7C277.7 801.2 300.0 800.5 313.3 800.0C326.6 799.5 336.0 798.8 346.7 798.7C357.4 798.6 370.4 799.4 380.0 799.3C389.6 799.2 398.7 798.7 406.7 798.3C414.7 797.9 422.0 796.6 430.0 796.7C438.0 796.8 449.8 798.7 456.7 798.7C463.6 798.7 467.4 798.1 473.3 796.7C479.2 795.3 487.4 791.7 493.3 790.0C499.2 788.3 504.7 786.3 510.0 786.0C515.3 785.7 519.8 786.9 526.7 788.3C533.6 789.7 544.8 793.8 553.3 795.0C561.8 796.2 570.4 795.5 580.0 796.0C589.6 796.5 605.3 797.8 613.3 798.3C621.3 798.8 622.0 799.6 630.0 799.3C638.0 799.0 650.0 797.0 663.3 796.7C676.6 796.4 700.0 797.3 713.3 797.3C726.6 797.3 736.0 797.2 746.7 796.7C757.4 796.2 770.4 794.8 780.0 794.0C789.6 793.2 798.7 791.5 806.7 791.7C814.7 791.9 823.6 794.6 830.0 795.0C836.4 795.4 841.4 794.5 846.7 794.0C852.0 793.5 857.4 791.9 863.3 791.7C869.2 791.5 875.3 792.0 883.3 792.7C891.3 793.4 904.8 795.5 913.3 796.0C921.8 796.5 928.7 796.5 936.7 796.0C944.7 795.5 953.7 793.9 963.3 792.7C972.9 791.5 986.0 789.8 996.7 788.3C1007.4 786.8 1022.0 784.4 1030.0 783.3C1038.0 782.2 1041.4 781.7 1046.7 781.7C1052.0 781.7 1058.0 783.0 1063.3 783.3C1068.6 783.6 1073.6 784.5 1080.0 783.3C1086.4 782.1 1096.4 777.3 1103.3 776.0C1110.2 774.7 1118.0 774.6 1123.3 775.0C1128.6 775.4 1131.7 777.2 1136.7 778.3C1141.7 779.4 1151.3 781.2 1154.3 781.7C1157.3 782.2 1155.3 781.7 1155.5 781.7"/>
<path d="M193.5 844.0C193.6 844.0 189.5 843.8 194.3 844.0C199.1 844.2 209.6 845.1 223.3 845.0C237.0 844.9 260.3 843.9 280.0 843.3C299.7 842.7 330.7 841.1 346.7 841.0C362.7 840.9 370.4 842.6 380.0 842.7C389.6 842.8 398.7 842.4 406.7 841.7C414.7 841.0 422.0 838.6 430.0 838.3C438.0 838.0 448.7 840.5 456.7 840.0C464.7 839.5 473.6 836.6 480.0 835.0C486.4 833.4 491.4 831.2 496.7 830.0C502.0 828.8 507.7 827.0 513.3 827.3C518.9 827.6 519.9 829.3 531.7 831.7C543.5 834.1 574.2 840.4 587.3 842.3C600.4 844.2 606.5 843.2 613.3 843.3C620.1 843.4 623.1 843.5 630.0 842.7C636.9 841.9 648.7 839.5 656.7 838.3C664.7 837.1 673.6 835.7 680.0 835.0C686.4 834.3 690.1 833.7 696.7 834.0C703.3 834.3 708.0 836.1 721.0 836.7C734.0 837.3 764.5 837.7 777.7 837.7C790.9 837.7 796.5 837.1 803.3 836.7C810.1 836.3 814.7 835.0 820.0 835.0C825.3 835.0 829.8 837.0 836.7 836.7C843.6 836.4 853.7 833.6 863.3 833.3C872.9 833.0 886.0 834.7 896.7 835.0C907.4 835.3 921.5 835.5 930.0 835.0C938.5 834.5 942.0 832.9 950.0 831.7C958.0 830.5 969.9 828.5 980.0 827.3C990.1 826.1 1002.6 825.2 1013.3 824.0C1024.0 822.8 1036.0 820.9 1046.7 820.0C1057.4 819.1 1070.9 819.1 1080.0 818.3C1089.1 817.5 1096.4 815.3 1103.3 815.0C1110.2 814.7 1118.0 815.9 1123.3 816.7C1128.6 817.5 1131.7 819.0 1136.7 820.0C1141.7 821.0 1151.3 822.3 1154.3 822.7C1157.3 823.1 1155.3 822.7 1155.5 822.7"/>
<path d="M193.5 902.3C193.6 902.3 189.5 901.9 194.3 902.3C199.1 902.7 214.0 904.7 223.3 905.0C232.6 905.3 239.2 904.7 252.7 904.3C266.2 903.9 295.3 902.7 307.7 902.3C320.1 901.9 322.7 901.4 330.0 901.7C337.3 902.0 345.3 903.1 353.3 904.3C361.3 905.5 371.5 908.3 380.0 909.3C388.5 910.3 399.2 911.0 406.7 910.7C414.2 910.4 418.7 907.8 426.7 907.3C434.7 906.8 448.2 908.2 456.7 907.3C465.2 906.4 473.1 903.5 480.0 901.7C486.9 899.9 494.7 897.2 500.0 896.0C505.3 894.8 508.0 894.1 513.3 894.3C518.6 894.5 526.9 896.1 533.3 897.3C539.7 898.5 545.8 900.8 553.3 901.7C560.8 902.6 570.4 903.0 580.0 902.7C589.6 902.4 605.3 900.5 613.3 900.0C621.3 899.5 624.1 900.1 630.0 899.3C635.9 898.5 644.1 896.2 650.0 895.0C655.9 893.8 661.9 892.6 666.7 891.7C671.5 890.8 675.7 889.3 680.0 889.3C684.3 889.3 688.0 890.3 693.3 891.7C698.6 893.1 705.8 896.4 713.3 898.3C720.8 900.2 732.0 902.0 740.0 903.3C748.0 904.6 755.3 906.2 763.3 906.7C771.3 907.2 782.5 907.5 790.0 906.7C797.5 905.9 803.6 902.8 810.0 901.7C816.4 900.6 824.1 900.5 830.0 900.0C835.9 899.5 841.9 899.4 846.7 898.3C851.5 897.2 856.3 893.7 860.0 893.3C863.7 892.9 864.1 895.2 870.0 896.0C875.9 896.8 889.8 898.2 896.7 898.3C903.6 898.4 908.0 897.5 913.3 896.7C918.6 895.9 924.1 894.4 930.0 893.3C935.9 892.2 942.0 890.6 950.0 890.0C958.0 889.4 968.6 889.3 980.0 889.3C991.4 889.3 1005.5 891.0 1021.0 890.0C1036.5 889.0 1064.6 884.6 1076.7 883.3C1088.8 882.0 1091.4 882.0 1096.7 882.0C1102.0 882.0 1104.7 882.0 1110.0 883.3C1115.3 884.6 1124.7 887.6 1130.0 890.0C1135.3 892.4 1139.4 896.4 1143.3 898.3C1147.2 900.2 1152.3 901.2 1154.3 901.7C1156.3 902.2 1155.3 901.7 1155.5 901.7"/>
</g></g>
<g fill="none" stroke="#404040" stroke-width="1" shape-rendering="crispEdges">
<rect x="257.5" y="238.5" width="55" height="28"/>
<rect x="257.5" y="458.5" width="56" height="28"/>
<rect x="247.5" y="541.5" width="55" height="29"/>
<rect x="651.5" y="223.5" width="56" height="29"/>
<rect x="746.5" y="206.5" width="55" height="29"/>
<rect x="951.5" y="289.5" width="55" height="27"/>
<rect x="656.5" y="329.5" width="56" height="28"/>
<rect x="726.5" y="343.5" width="55" height="28"/>
<rect x="656.5" y="410.5" width="56" height="28"/>
<rect x="726.5" y="424.5" width="55" height="28"/>
<rect x="666.5" y="486.5" width="56" height="29"/>
<rect x="222.5" y="611.5" width="55" height="29"/>
<rect x="252.5" y="677.5" width="55" height="29"/>
<rect x="252.5" y="740.5" width="55" height="29"/>
<rect x="531.5" y="825.5" width="56" height="29"/>
<rect x="252.5" y="889.5" width="55" height="29"/>
<rect x="661.5" y="563.5" width="56" height="28"/>
<rect x="666.5" y="629.5" width="56" height="28"/>
<rect x="711.5" y="686.5" width="56" height="29"/>
<rect x="806.5" y="734.5" width="55" height="29"/>
<rect x="721.5" y="822.5" width="56" height="29"/>
<rect x="1021.5" y="873.5" width="55" height="29"/>
</g>
<g fill="#404040" font-size="25" style="letter-spacing:2.4px">
<text transform="translate(261.5,260.8) scale(1.1,1)">316</text>
<text transform="translate(262.0,480.8) scale(1.1,1)">304</text>
<text transform="translate(251.5,564.3) scale(1.1,1)">300</text>
<text transform="translate(656.0,246.3) scale(1.1,1)">320</text>
<text transform="translate(750.5,229.3) scale(1.1,1)">320</text>
<text transform="translate(955.5,311.3) scale(1.1,1)">316</text>
<text transform="translate(661.0,351.8) scale(1.1,1)">312</text>
<text transform="translate(730.5,365.8) scale(1.1,1)">312</text>
<text transform="translate(661.0,432.8) scale(1.1,1)">308</text>
<text transform="translate(730.5,446.8) scale(1.1,1)">308</text>
<text transform="translate(671.0,509.3) scale(1.1,1)">304</text>
<text transform="translate(226.5,634.3) scale(1.1,1)">296</text>
<text transform="translate(256.5,700.3) scale(1.1,1)">292</text>
<text transform="translate(256.5,763.3) scale(1.1,1)">288</text>
<text transform="translate(536.0,848.3) scale(1.1,1)">280</text>
<text transform="translate(256.5,912.3) scale(1.1,1)">276</text>
<text transform="translate(666.0,585.8) scale(1.1,1)">300</text>
<text transform="translate(671.0,651.8) scale(1.1,1)">296</text>
<text transform="translate(716.0,709.3) scale(1.1,1)">292</text>
<text transform="translate(810.5,757.3) scale(1.1,1)">288</text>
<text transform="translate(726.0,845.3) scale(1.1,1)">280</text>
<text transform="translate(1025.5,896.3) scale(1.1,1)">276</text>
</g>
<g clip-path="url(#fr)" fill="none" stroke="#000" stroke-width="1.7" stroke-linecap="butt">
<path d="M194.3 234.3L230.0 225.3M230.0 225.3L221.0 223.4M230.0 225.3L223.0 231.3"/>
<path d="M285.0 234.3L328.3 217.7M328.3 217.7L316.8 216.7M328.3 217.7L320.4 226.2"/>
<path d="M374.3 234.3L423.3 216.3M423.3 216.3L410.4 215.0M423.3 216.3L414.3 225.7"/>
<path d="M464.0 234.0L519.3 219.3M519.3 219.3L505.3 216.6M519.3 219.3L508.5 228.7"/>
<path d="M554.0 235.3L611.7 231.7M611.7 231.7L598.3 226.2M611.7 231.7L599.1 238.8"/>
<path d="M194.3 298.3L226.7 280.0M226.7 280.0L217.4 280.6M226.7 280.0L221.4 287.7"/>
<path d="M285.0 296.7L319.3 277.3M319.3 277.3L309.5 277.9M319.3 277.3L313.7 285.4"/>
<path d="M374.3 297.7L413.3 282.3M413.3 282.3L402.9 281.5M413.3 282.3L406.3 290.1"/>
<path d="M464.0 296.7L511.7 286.7M511.7 286.7L499.9 283.7M511.7 286.7L502.1 294.1"/>
<path d="M554.0 297.7L621.7 287.3M621.7 287.3L605.3 282.2M621.7 287.3L607.6 297.1"/>
<path d="M194.3 369.3L259.3 365.0M259.3 365.0L244.3 358.9M259.3 365.0L245.2 373.1"/>
<path d="M285.0 367.3L354.0 362.7M354.0 362.7L338.0 356.2M354.0 362.7L339.0 371.3"/>
<path d="M374.3 368.3L442.7 363.3M442.7 363.3L426.8 357.0M442.7 363.3L427.9 371.9"/>
<path d="M464.0 367.3L531.7 366.7M531.7 366.7L516.4 359.4M531.7 366.7L516.5 374.2"/>
<path d="M554.0 369.0L605.0 357.3M605.0 357.3L592.3 354.4M605.0 357.3L594.8 365.5"/>
<path d="M194.3 449.3L217.7 446.0M217.7 446.0L212.1 444.2M217.7 446.0L212.8 449.3"/>
<path d="M285.0 446.0L305.0 438.7M305.0 438.7L299.7 438.1M305.0 438.7L301.3 442.5"/>
<path d="M374.3 446.7L398.3 435.0M398.3 435.0L391.7 435.0M398.3 435.0L394.2 440.3"/>
<path d="M464.0 446.0L490.7 435.0M490.7 435.0L483.5 434.5M490.7 435.0L485.9 440.4"/>
<path d="M554.0 447.7L579.3 433.3M579.3 433.3L572.1 433.8M579.3 433.3L575.2 439.3"/>
<path d="M194.3 536.0L208.3 536.0M208.3 536.0L205.2 534.5M208.3 536.0L205.2 537.5"/>
<path d="M285.0 534.0L296.7 528.7M296.7 528.7L293.2 528.6M296.7 528.7L294.4 531.4"/>
<path d="M374.3 535.0L389.0 528.7M389.0 528.7L385.0 528.5M389.0 528.7L386.4 531.7"/>
<path d="M464.0 534.0L477.3 519.3M477.3 519.3L472.7 521.2M477.3 519.3L475.9 524.1"/>
<path d="M554.0 536.0L566.7 524.3M566.7 524.3L562.5 525.6M566.7 524.3L565.1 528.3"/>
<path d="M644.3 232.7L708.3 221.7M708.3 221.7L692.7 217.1M708.3 221.7L695.2 231.2"/>
<path d="M734.3 235.0L811.7 196.0M811.7 196.0L790.0 196.3M811.7 196.0L798.6 213.2"/>
<path d="M824.3 233.3L899.3 199.3M899.3 199.3L878.8 198.8M899.3 199.3L886.2 215.2"/>
<path d="M644.3 296.7L715.0 284.0M715.0 284.0L697.7 279.1M715.0 284.0L700.5 294.6"/>
<path d="M734.3 297.7L810.0 283.3M810.0 283.3L791.4 278.3M810.0 283.3L794.6 294.8"/>
<path d="M824.3 296.7L875.0 251.7M875.0 251.7L858.7 256.2M875.0 251.7L868.5 267.3"/>
<path d="M644.3 365.7L690.0 350.0M690.0 350.0L678.0 348.5M690.0 350.0L681.5 358.5"/>
<path d="M734.3 369.0L777.7 359.0M777.7 359.0L766.8 356.5M777.7 359.0L769.0 366.0"/>
<path d="M824.3 366.7L870.7 329.3M870.7 329.3L856.2 332.6M870.7 329.3L864.3 342.8"/>
<path d="M644.3 445.0L678.3 418.3M678.3 418.3L667.8 420.6M678.3 418.3L673.6 428.1"/>
<path d="M734.3 447.3L769.3 424.0M769.3 424.0L758.9 425.4M769.3 424.0L764.0 433.1"/>
<path d="M824.3 446.0L852.7 427.7M852.7 427.7L844.3 428.7M852.7 427.7L848.3 434.9"/>
<path d="M644.3 532.3L658.3 507.3M658.3 507.3L652.4 511.4M658.3 507.3L657.9 514.5"/>
<path d="M734.3 535.7L750.7 526.7M750.7 526.7L746.0 526.9M750.7 526.7L748.0 530.5"/>
<path d="M824.3 533.3L843.3 548.3M843.3 548.3L840.7 542.9M843.3 548.3L837.4 547.0"/>
<path d="M914.0 230.0L1001.7 226.0M1001.7 226.0L981.5 217.3M1001.7 226.0L982.4 236.5"/>
<path d="M1004.0 232.7L1086.0 228.3M1086.0 228.3L1067.1 220.3M1086.0 228.3L1068.0 238.3"/>
<path d="M1094.0 233.3L1180.0 228.3M1180.0 228.3L1160.1 220.0M1180.0 228.3L1161.2 238.9"/>
<path d="M914.0 292.7L969.0 289.3M969.0 289.3L956.3 284.1M969.0 289.3L957.0 296.1"/>
<path d="M1004.0 296.0L1071.0 270.7M1071.0 270.7L1053.2 269.0M1071.0 270.7L1058.7 283.7"/>
<path d="M1094.0 296.7L1161.7 287.7M1161.7 287.7L1145.5 282.3M1161.7 287.7L1147.4 297.1"/>
<path d="M914.0 362.3L976.7 334.3M976.7 334.3L959.5 333.8M976.7 334.3L965.7 347.5"/>
<path d="M1004.0 365.7L1066.0 322.7M1066.0 322.7L1047.4 325.5M1066.0 322.7L1056.8 339.1"/>
<path d="M1094.0 367.3L1155.7 340.3M1155.7 340.3L1138.9 339.6M1155.7 340.3L1144.8 353.2"/>
<path d="M914.0 440.0L945.0 417.7M945.0 417.7L935.6 419.3M945.0 417.7L940.5 426.1"/>
<path d="M1004.0 444.0L1036.7 426.7M1036.7 426.7L1027.4 427.0M1036.7 426.7L1031.2 434.1"/>
<path d="M1094.0 446.0L1129.3 433.3M1129.3 433.3L1120.0 432.3M1129.3 433.3L1122.8 440.1"/>
<path d="M914.0 526.7L931.7 512.7M931.7 512.7L926.2 513.9M931.7 512.7L929.2 517.7"/>
<path d="M1004.0 531.7L1021.7 517.7M1021.7 517.7L1016.2 518.9M1021.7 517.7L1019.2 522.7"/>
<path d="M1094.0 533.3L1115.0 530.7M1115.0 530.7L1110.0 529.0M1115.0 530.7L1110.6 533.6"/>
<path d="M285.0 631.7L284.3 631.0M284.3 631.0L284.6 631.9M284.3 631.0L285.2 631.3"/>
<path d="M374.3 631.7L373.3 630.7M373.3 630.7L373.8 632.0M373.3 630.7L374.7 631.1"/>
<path d="M465.0 630.7L465.0 620.0M465.0 620.0L463.5 623.1M465.0 620.0L466.5 623.1"/>
<path d="M554.0 637.7L554.0 633.3M554.0 633.3L552.5 636.5M554.0 633.3L555.5 636.5"/>
<path d="M285.0 740.0L271.7 741.7M271.7 741.7L275.0 742.8M271.7 741.7L274.6 739.8"/>
<path d="M374.3 741.7L360.0 745.0M360.0 745.0L363.6 745.8M360.0 745.0L362.9 742.7"/>
<path d="M465.0 739.3L451.7 733.3M451.7 733.3L454.0 736.1M451.7 733.3L455.3 733.2"/>
<path d="M555.0 743.3L538.3 739.0M538.3 739.0L541.6 741.8M538.3 739.0L542.6 738.1"/>
<path d="M285.0 815.0L253.3 816.0M253.3 816.0L260.6 819.2M253.3 816.0L260.3 812.3"/>
<path d="M374.3 816.0L342.3 809.3M342.3 809.3L348.8 814.3M342.3 809.3L350.3 807.3"/>
<path d="M465.0 813.3L428.3 825.7M428.3 825.7L437.9 826.9M428.3 825.7L435.2 818.9"/>
<path d="M555.0 818.3L517.3 807.3M517.3 807.3L524.6 813.9M517.3 807.3L527.0 805.7"/>
<path d="M285.0 875.0L236.7 881.0M236.7 881.0L248.2 884.9M236.7 881.0L246.9 874.4"/>
<path d="M374.3 876.7L329.0 866.7M329.0 866.7L338.1 873.9M329.0 866.7L340.3 863.9"/>
<path d="M465.0 874.0L417.3 896.7M417.3 896.7L430.5 896.8M417.3 896.7L425.6 886.3"/>
<path d="M555.0 879.0L506.7 875.7M506.7 875.7L517.2 881.7M506.7 875.7L517.9 871.1"/>
<path d="M285.0 935.7L240.0 940.7M240.0 940.7L250.7 944.5M240.0 940.7L249.6 934.6"/>
<path d="M374.3 937.3L326.7 929.3M326.7 929.3L336.5 936.4M326.7 929.3L338.3 925.9"/>
<path d="M465.0 934.0L416.7 956.0M416.7 956.0L429.9 956.4M416.7 956.0L425.1 945.8"/>
<path d="M555.0 940.0L505.0 946.7M505.0 946.7L517.0 950.6M505.0 946.7L515.5 939.7"/>
<path d="M644.3 629.3L645.7 613.3M645.7 613.3L643.6 616.8M645.7 613.3L647.1 617.1"/>
<path d="M733.3 633.3L737.3 629.3M737.3 629.3L734.0 630.5M737.3 629.3L736.2 632.6"/>
<path d="M824.3 631.0L829.0 651.0M829.0 651.0L830.1 646.0M829.0 651.0L825.8 647.0"/>
<path d="M644.3 737.7L630.0 734.3M630.0 734.3L632.9 736.7M630.0 734.3L633.6 733.5"/>
<path d="M734.3 742.3L720.0 744.0M720.0 744.0L723.4 745.2M720.0 744.0L723.0 742.1"/>
<path d="M824.3 740.0L809.0 745.0M809.0 745.0L813.0 745.6M809.0 745.0L811.9 742.2"/>
<path d="M644.3 812.3L610.0 822.7M610.0 822.7L618.8 824.1M610.0 822.7L616.6 816.6"/>
<path d="M734.3 817.3L695.0 818.3M695.0 818.3L703.9 822.4M695.0 818.3L703.7 813.8"/>
<path d="M824.3 814.0L791.7 810.7M791.7 810.7L798.6 815.0M791.7 810.7L799.4 807.8"/>
<path d="M644.3 873.3L596.0 894.0M596.0 894.0L609.1 894.7M596.0 894.0L604.6 884.1"/>
<path d="M734.3 879.0L688.3 876.7M688.3 876.7L698.4 882.2M688.3 876.7L698.9 872.1"/>
<path d="M824.3 875.0L781.7 878.3M781.7 878.3L791.6 882.3M781.7 878.3L790.9 872.9"/>
<path d="M644.3 932.7L598.3 946.7M598.3 946.7L610.2 948.6M598.3 946.7L607.1 938.5"/>
<path d="M734.3 939.0L686.0 944.0M686.0 944.0L697.4 948.2M686.0 944.0L696.3 937.6"/>
<path d="M824.3 935.0L776.7 947.3M776.7 947.3L788.7 949.8M776.7 947.3L786.0 939.3"/>
<path d="M914.0 622.3L921.7 624.3M921.7 624.3L919.0 622.1M921.7 624.3L918.2 625.0"/>
<path d="M1004.0 629.3L1011.7 621.7M1011.7 621.7L1008.4 622.8M1011.7 621.7L1010.5 625.0"/>
<path d="M1094.0 631.0L1102.3 627.7M1102.3 627.7L1098.8 627.4M1102.3 627.7L1100.0 630.3"/>
<path d="M914.0 730.0L901.7 735.0M901.7 735.0L905.2 735.2M901.7 735.0L904.0 732.4"/>
<path d="M1004.0 736.7L988.3 745.0M988.3 745.0L992.8 744.8M988.3 745.0L990.9 741.4"/>
<path d="M1094.0 739.0L1075.0 740.0M1075.0 740.0L1079.4 741.9M1075.0 740.0L1079.2 737.7"/>
<path d="M914.0 803.3L882.3 813.3M882.3 813.3L890.5 814.6M882.3 813.3L888.4 807.6"/>
<path d="M1004.0 810.7L970.7 824.0M970.7 824.0L979.6 824.7M970.7 824.0L976.7 817.4"/>
<path d="M1094.0 815.0L1060.7 818.3M1060.7 818.3L1068.5 821.2M1060.7 818.3L1067.8 813.9"/>
<path d="M914.0 864.3L870.0 880.0M870.0 880.0L881.6 881.3M870.0 880.0L878.2 871.7"/>
<path d="M1004.0 872.3L959.3 889.0M959.3 889.0L971.2 890.2M959.3 889.0L967.5 880.4"/>
<path d="M1094.0 875.0L1054.0 876.0M1054.0 876.0L1063.1 880.2M1054.0 876.0L1062.9 871.4"/>
<path d="M914.0 922.7L870.0 940.0M870.0 940.0L881.8 940.9M870.0 940.0L878.0 931.3"/>
<path d="M1004.0 931.7L958.3 953.3M958.3 953.3L971.0 953.5M958.3 953.3L966.2 943.5"/>
<path d="M1094.0 934.3L1056.7 930.7M1056.7 930.7L1064.7 935.6M1056.7 930.7L1065.5 927.4"/>
<path d="M284.4 1016.0L272.0 1017.8M272.0 1017.8L275.3 1018.9M272.0 1017.8L274.9 1015.8"/>
<path d="M374.4 1017.8L360.0 1017.3M360.0 1017.3L363.2 1019.0M360.0 1017.3L363.3 1015.8"/>
<path d="M464.4 1015.0L446.7 1017.3M446.7 1017.3L450.9 1018.7M446.7 1017.3L450.4 1014.8"/>
<path d="M554.4 1020.4L527.8 1022.0M527.8 1022.0L534.0 1024.6M527.8 1022.0L533.6 1018.7"/>
<path d="M644.4 1014.0L629.0 1016.7M629.0 1016.7L632.8 1017.8M629.0 1016.7L632.2 1014.4"/>
<path d="M734.4 1020.0L712.0 1021.0M712.0 1021.0L717.1 1023.2M712.0 1021.0L716.9 1018.3"/>
<path d="M824.4 1016.0L811.0 1019.5M811.0 1019.5L814.4 1020.2M811.0 1019.5L813.7 1017.2"/>
<path d="M914.4 1002.7L900.0 1007.0M900.0 1007.0L903.7 1007.6M900.0 1007.0L902.8 1004.5"/>
<path d="M1004.4 1012.0L989.0 1014.4M989.0 1014.4L992.7 1015.5M989.0 1014.4L992.2 1012.2"/>
<path d="M1094.4 1016.0L1077.4 1009.6M1077.4 1009.6L1080.5 1012.9M1077.4 1009.6L1081.9 1009.2"/>
</g>
<g stroke="#000" stroke-width="1" fill="none" shape-rendering="crispEdges">
<rect x="194.5" y="179.5" width="960.0" height="876.0"/>
<path d="M194.5 179.5v12.5M194.5 1055.5v-12.5M212.5 179.5v6.5M212.5 1055.5v-6.5M230.5 179.5v6.5M230.5 1055.5v-6.5M248.5 179.5v6.5M248.5 1055.5v-6.5M266.5 179.5v6.5M266.5 1055.5v-6.5M284.5 179.5v6.5M284.5 1055.5v-6.5M302.5 179.5v6.5M302.5 1055.5v-6.5M320.5 179.5v6.5M320.5 1055.5v-6.5M337.5 179.5v6.5M337.5 1055.5v-6.5M355.5 179.5v6.5M355.5 1055.5v-6.5M373.5 179.5v12.5M373.5 1055.5v-12.5M391.5 179.5v6.5M391.5 1055.5v-6.5M409.5 179.5v6.5M409.5 1055.5v-6.5M427.5 179.5v6.5M427.5 1055.5v-6.5M445.5 179.5v6.5M445.5 1055.5v-6.5M463.5 179.5v6.5M463.5 1055.5v-6.5M481.5 179.5v6.5M481.5 1055.5v-6.5M499.5 179.5v6.5M499.5 1055.5v-6.5M517.5 179.5v6.5M517.5 1055.5v-6.5M535.5 179.5v6.5M535.5 1055.5v-6.5M553.5 179.5v12.5M553.5 1055.5v-12.5M570.5 179.5v6.5M570.5 1055.5v-6.5M588.5 179.5v6.5M588.5 1055.5v-6.5M606.5 179.5v6.5M606.5 1055.5v-6.5M624.5 179.5v6.5M624.5 1055.5v-6.5M642.5 179.5v6.5M642.5 1055.5v-6.5M660.5 179.5v6.5M660.5 1055.5v-6.5M678.5 179.5v6.5M678.5 1055.5v-6.5M696.5 179.5v6.5M696.5 1055.5v-6.5M714.5 179.5v6.5M714.5 1055.5v-6.5M732.5 179.5v12.5M732.5 1055.5v-12.5M750.5 179.5v6.5M750.5 1055.5v-6.5M768.5 179.5v6.5M768.5 1055.5v-6.5M785.5 179.5v6.5M785.5 1055.5v-6.5M803.5 179.5v6.5M803.5 1055.5v-6.5M821.5 179.5v6.5M821.5 1055.5v-6.5M839.5 179.5v6.5M839.5 1055.5v-6.5M857.5 179.5v6.5M857.5 1055.5v-6.5M875.5 179.5v6.5M875.5 1055.5v-6.5M893.5 179.5v6.5M893.5 1055.5v-6.5M911.5 179.5v12.5M911.5 1055.5v-12.5M929.5 179.5v6.5M929.5 1055.5v-6.5M947.5 179.5v6.5M947.5 1055.5v-6.5M965.5 179.5v6.5M965.5 1055.5v-6.5M983.5 179.5v6.5M983.5 1055.5v-6.5M1001.5 179.5v6.5M1001.5 1055.5v-6.5M1018.5 179.5v6.5M1018.5 1055.5v-6.5M1036.5 179.5v6.5M1036.5 1055.5v-6.5M1054.5 179.5v6.5M1054.5 1055.5v-6.5M1072.5 179.5v6.5M1072.5 1055.5v-6.5M1090.5 179.5v12.5M1090.5 1055.5v-12.5M1108.5 179.5v6.5M1108.5 1055.5v-6.5M1126.5 179.5v6.5M1126.5 1055.5v-6.5M1144.5 179.5v6.5M1144.5 1055.5v-6.5M194.5 179.5h12.5M1154.5 179.5h-12.5M194.5 191.5h6.5M1154.5 191.5h-6.5M194.5 202.5h6.5M1154.5 202.5h-6.5M194.5 214.5h6.5M1154.5 214.5h-6.5M194.5 226.5h6.5M1154.5 226.5h-6.5M194.5 238.5h6.5M1154.5 238.5h-6.5M194.5 250.5h6.5M1154.5 250.5h-6.5M194.5 262.5h6.5M1154.5 262.5h-6.5M194.5 273.5h6.5M1154.5 273.5h-6.5M194.5 285.5h6.5M1154.5 285.5h-6.5M194.5 297.5h12.5M1154.5 297.5h-12.5M194.5 309.5h6.5M1154.5 309.5h-6.5M194.5 321.5h6.5M1154.5 321.5h-6.5M194.5 333.5h6.5M1154.5 333.5h-6.5M194.5 344.5h6.5M1154.5 344.5h-6.5M194.5 356.5h6.5M1154.5 356.5h-6.5M194.5 368.5h6.5M1154.5 368.5h-6.5M194.5 380.5h6.5M1154.5 380.5h-6.5M194.5 392.5h6.5M1154.5 392.5h-6.5M194.5 404.5h6.5M1154.5 404.5h-6.5M194.5 415.5h12.5M1154.5 415.5h-12.5M194.5 427.5h6.5M1154.5 427.5h-6.5M194.5 439.5h6.5M1154.5 439.5h-6.5M194.5 451.5h6.5M1154.5 451.5h-6.5M194.5 463.5h6.5M1154.5 463.5h-6.5M194.5 475.5h6.5M1154.5 475.5h-6.5M194.5 486.5h6.5M1154.5 486.5h-6.5M194.5 498.5h6.5M1154.5 498.5h-6.5M194.5 510.5h6.5M1154.5 510.5h-6.5M194.5 522.5h6.5M1154.5 522.5h-6.5M194.5 534.5h12.5M1154.5 534.5h-12.5M194.5 546.5h6.5M1154.5 546.5h-6.5M194.5 557.5h6.5M1154.5 557.5h-6.5M194.5 569.5h6.5M1154.5 569.5h-6.5M194.5 581.5h6.5M1154.5 581.5h-6.5M194.5 593.5h6.5M1154.5 593.5h-6.5M194.5 605.5h6.5M1154.5 605.5h-6.5M194.5 617.5h6.5M1154.5 617.5h-6.5M194.5 628.5h6.5M1154.5 628.5h-6.5M194.5 640.5h6.5M1154.5 640.5h-6.5M194.5 652.5h12.5M1154.5 652.5h-12.5M194.5 664.5h6.5M1154.5 664.5h-6.5M194.5 676.5h6.5M1154.5 676.5h-6.5M194.5 688.5h6.5M1154.5 688.5h-6.5M194.5 699.5h6.5M1154.5 699.5h-6.5M194.5 711.5h6.5M1154.5 711.5h-6.5M194.5 723.5h6.5M1154.5 723.5h-6.5M194.5 735.5h6.5M1154.5 735.5h-6.5M194.5 747.5h6.5M1154.5 747.5h-6.5M194.5 759.5h6.5M1154.5 759.5h-6.5M194.5 770.5h12.5M1154.5 770.5h-12.5M194.5 782.5h6.5M1154.5 782.5h-6.5M194.5 794.5h6.5M1154.5 794.5h-6.5M194.5 806.5h6.5M1154.5 806.5h-6.5M194.5 818.5h6.5M1154.5 818.5h-6.5M194.5 830.5h6.5M1154.5 830.5h-6.5M194.5 841.5h6.5M1154.5 841.5h-6.5M194.5 853.5h6.5M1154.5 853.5h-6.5M194.5 865.5h6.5M1154.5 865.5h-6.5M194.5 877.5h6.5M1154.5 877.5h-6.5M194.5 889.5h12.5M1154.5 889.5h-12.5M194.5 901.5h6.5M1154.5 901.5h-6.5M194.5 912.5h6.5M1154.5 912.5h-6.5M194.5 924.5h6.5M1154.5 924.5h-6.5M194.5 936.5h6.5M1154.5 936.5h-6.5M194.5 948.5h6.5M1154.5 948.5h-6.5M194.5 960.5h6.5M1154.5 960.5h-6.5M194.5 972.5h6.5M1154.5 972.5h-6.5M194.5 983.5h6.5M1154.5 983.5h-6.5M194.5 995.5h6.5M1154.5 995.5h-6.5M194.5 1007.5h12.5M1154.5 1007.5h-12.5M194.5 1019.5h6.5M1154.5 1019.5h-6.5M194.5 1031.5h6.5M1154.5 1031.5h-6.5M194.5 1043.5h6.5M1154.5 1043.5h-6.5M194.5 1054.5h6.5M1154.5 1054.5h-6.5"/>
</g>
<g shape-rendering="crispEdges">
<rect x="1190.5" y="234.2" width="19.0" height="55.2" fill="#9955C9"/>
<rect x="1190.5" y="289.0" width="19.0" height="55.2" fill="#FF00FF"/>
<rect x="1190.5" y="343.8" width="19.0" height="55.2" fill="#C00000"/>
<rect x="1190.5" y="398.5" width="19.0" height="55.2" fill="#D60000"/>
<rect x="1190.5" y="453.2" width="19.0" height="55.2" fill="#FF0000"/>
<rect x="1190.5" y="508.0" width="19.0" height="55.2" fill="#FF9000"/>
<rect x="1190.5" y="562.8" width="19.0" height="55.2" fill="#E7C000"/>
<rect x="1190.5" y="617.5" width="19.0" height="55.2" fill="#FFFF00"/>
<rect x="1190.5" y="672.2" width="19.0" height="55.2" fill="#009000"/>
<rect x="1190.5" y="727.0" width="19.0" height="55.2" fill="#00C800"/>
<rect x="1190.5" y="781.8" width="19.0" height="55.2" fill="#00FF00"/>
<rect x="1190.5" y="836.5" width="19.0" height="55.2" fill="#0000F6"/>
<rect x="1190.5" y="891.2" width="19.0" height="55.2" fill="#01A0F6"/>
<rect x="1190.5" y="946.0" width="19.0" height="55.2" fill="#00ECEC"/>
<path d="M1190.5 179.5H1209.5V1055.5H1190.5ZM1190.5 234.5H1209.5M1190.5 289.5H1209.5M1190.5 343.5H1209.5M1190.5 398.5H1209.5M1190.5 453.5H1209.5M1190.5 508.5H1209.5M1190.5 562.5H1209.5M1190.5 617.5H1209.5M1190.5 672.5H1209.5M1190.5 727.5H1209.5M1190.5 781.5H1209.5M1190.5 836.5H1209.5M1190.5 891.5H1209.5M1190.5 946.5H1209.5M1190.5 1000.5H1209.5" fill="none" stroke="#000" stroke-width="1"/>
</g>
<text transform="translate(140.40,185.80) scale(1.1814,1)" font-size="18.6" fill="#000" xml:space="preserve">300</text>
<text transform="translate(140.40,303.80) scale(1.1814,1)" font-size="18.6" fill="#000" xml:space="preserve">400</text>
<text transform="translate(139.17,421.80) scale(1.2259,1)" font-size="18.6" fill="#000" xml:space="preserve">500</text>
<text transform="translate(140.40,540.80) scale(1.1814,1)" font-size="18.6" fill="#000" xml:space="preserve">600</text>
<text transform="translate(139.17,658.80) scale(1.2259,1)" font-size="18.6" fill="#000" xml:space="preserve">700</text>
<text transform="translate(140.40,776.80) scale(1.1814,1)" font-size="18.6" fill="#000" xml:space="preserve">800</text>
<text transform="translate(140.40,895.80) scale(1.1814,1)" font-size="18.6" fill="#000" xml:space="preserve">900</text>
<text transform="translate(128.19,1013.80) scale(1.2148,1)" font-size="18.6" fill="#000" xml:space="preserve">1000</text>
<text transform="translate(190.00,1080.20) scale(1.1111,1)" font-size="18.4" fill="#000" xml:space="preserve">0</text>
<text transform="translate(356.68,1080.20) scale(1.2201,1)" font-size="18.4" fill="#000" xml:space="preserve">100</text>
<text transform="translate(537.90,1080.20) scale(1.1756,1)" font-size="18.4" fill="#000" xml:space="preserve">200</text>
<text transform="translate(716.90,1080.20) scale(1.1756,1)" font-size="18.4" fill="#000" xml:space="preserve">300</text>
<text transform="translate(895.90,1080.20) scale(1.1756,1)" font-size="18.4" fill="#000" xml:space="preserve">400</text>
<text transform="translate(1073.68,1080.20) scale(1.2201,1)" font-size="18.4" fill="#000" xml:space="preserve">500</text>
<text transform="translate(194.72,1105.00) scale(0.8773,1)" font-size="22.5" fill="#000" xml:space="preserve">SW</text>
<text transform="translate(592.90,1105.00) scale(1.2244,1)" font-size="22.5" fill="#000" xml:space="preserve">Distance</text>
<text transform="translate(702.90,1105.00) scale(1.2441,1)" font-size="22.5" fill="#000" xml:space="preserve">(km)</text>
<text transform="translate(1140.00,1105.00) scale(0.9881,1)" font-size="22.5" fill="#000" xml:space="preserve">NE</text>
<text transform="translate(135.0,704.3) rotate(-90) translate(0.00,0) scale(1.2200,1)" font-size="22.5" fill="#000" style="letter-spacing:0.837px" xml:space="preserve">Pressure (hPa)</text>
<text transform="translate(82.70,25.20) scale(1.2200,1)" font-size="26" fill="#000" style="letter-spacing:0.460px" xml:space="preserve">Init: 00 UTC Thu 03 Dec 09</text>
<text transform="translate(1065.70,25.70) scale(1.2363,1)" font-size="26" fill="#000" xml:space="preserve">Fcst:</text>
<text transform="translate(1168.16,25.70) scale(1.1360,1)" font-size="26" fill="#000" xml:space="preserve">78</text>
<text transform="translate(1213.30,25.70) scale(1.1538,1)" font-size="26" fill="#000" xml:space="preserve">h</text>
<text transform="translate(529.30,51.70) scale(1.2200,1)" font-size="26" fill="#000" style="letter-spacing:0.576px" xml:space="preserve">Valid: 06 UTC Sun 06 Dec 09 (01 EST Sun 06 Dec 09)</text>
<text transform="translate(88.30,76.00) scale(1.2200,1)" font-size="23" fill="#000" style="letter-spacing:0.456px" xml:space="preserve">Reflectivity (dBZ)</text>
<text transform="translate(88.30,101.60) scale(1.2200,1)" font-size="23" fill="#484848" style="letter-spacing:1.335px" xml:space="preserve">Potential Temperature (K)</text>
<text transform="translate(88.30,125.00) scale(1.2200,1)" font-size="23" fill="#000" style="letter-spacing:1.103px" xml:space="preserve">Circulation Vectors</text>
<text transform="translate(1223.80,187.80) scale(1.0234,1)" font-size="22.7" fill="#000" xml:space="preserve">dBZ</text>
<text transform="translate(1222.67,241.85) scale(1.1341,1)" font-size="22.5" fill="#000" xml:space="preserve">75</text>
<text transform="translate(1222.67,296.60) scale(1.1341,1)" font-size="22.5" fill="#000" xml:space="preserve">70</text>
<text transform="translate(1223.80,351.35) scale(1.0831,1)" font-size="22.5" fill="#000" xml:space="preserve">65</text>
<text transform="translate(1223.80,406.10) scale(1.0831,1)" font-size="22.5" fill="#000" xml:space="preserve">60</text>
<text transform="translate(1222.67,460.85) scale(1.1341,1)" font-size="22.5" fill="#000" xml:space="preserve">55</text>
<text transform="translate(1222.67,515.60) scale(1.1341,1)" font-size="22.5" fill="#000" xml:space="preserve">50</text>
<text transform="translate(1223.80,570.35) scale(1.0831,1)" font-size="22.5" fill="#000" xml:space="preserve">45</text>
<text transform="translate(1223.80,625.10) scale(1.0831,1)" font-size="22.5" fill="#000" xml:space="preserve">40</text>
<text transform="translate(1222.67,679.85) scale(1.1341,1)" font-size="22.5" fill="#000" xml:space="preserve">35</text>
<text transform="translate(1222.67,734.60) scale(1.1341,1)" font-size="22.5" fill="#000" xml:space="preserve">30</text>
<text transform="translate(1223.80,789.35) scale(1.0831,1)" font-size="22.5" fill="#000" xml:space="preserve">25</text>
<text transform="translate(1223.80,844.10) scale(1.0831,1)" font-size="22.5" fill="#000" xml:space="preserve">20</text>
<text transform="translate(1222.67,898.85) scale(1.1341,1)" font-size="22.5" fill="#000" xml:space="preserve">15</text>
<text transform="translate(1222.67,953.60) scale(1.1341,1)" font-size="22.5" fill="#000" xml:space="preserve">10</text>
<text transform="translate(1222.73,1008.35) scale(1.0700,1)" font-size="22.5" fill="#000" xml:space="preserve">5</text>
<text transform="translate(341.70,1170.70) scale(0.9157,1)" font-size="16.3" fill="#000" xml:space="preserve">MAXIMUM</text>
<text transform="translate(428.30,1170.70) scale(1.0417,1)" font-size="16.3" fill="#000" xml:space="preserve">VECTOR:</text>
<text transform="translate(518.30,1170.70) scale(1.2200,1)" font-size="16.3" fill="#000" style="letter-spacing:0.577px" xml:space="preserve">33.5</text>
<text transform="translate(565.00,1170.70) scale(1.2846,1)" font-size="16.3" fill="#000" xml:space="preserve">m</text>
<text transform="translate(591.70,1170.70) scale(1.3833,1)" font-size="16.3" fill="#000" xml:space="preserve">s</text>
<text transform="translate(601.00,1165.20) scale(1.0979,1)" font-size="11" fill="#000" xml:space="preserve">−1</text>
<text transform="translate(625.00,1170.70) scale(1.0804,1)" font-size="16.3" fill="#000" xml:space="preserve">(HORIZ)</text>
<text transform="translate(768.30,1170.70) scale(1.2592,1)" font-size="16.3" fill="#000" xml:space="preserve">25.5</text>
<text transform="translate(815.70,1170.70) scale(1.2200,1)" font-size="16.3" fill="#000" style="letter-spacing:0.607px" xml:space="preserve">dPa</text>
<text transform="translate(856.70,1170.70) scale(1.2667,1)" font-size="16.3" fill="#000" xml:space="preserve">s</text>
<text transform="translate(865.50,1165.20) scale(1.2317,1)" font-size="11" fill="#000" xml:space="preserve">−1</text>
<text transform="translate(890.70,1170.70) scale(1.0895,1)" font-size="16.3" fill="#000" xml:space="preserve">(VERT)</text>
<text transform="translate(284.00,1190.20) scale(1.0497,1)" font-size="16.3" fill="#5a5a5a" xml:space="preserve">CONTOURS:</text>
<text transform="translate(399.30,1190.20) scale(1.0952,1)" font-size="16.3" fill="#5a5a5a" xml:space="preserve">UNITS=K</text>
<text transform="translate(492.70,1190.20) scale(0.9898,1)" font-size="16.3" fill="#5a5a5a" xml:space="preserve">LOW=</text>
<text transform="translate(557.30,1190.20) scale(1.2200,1)" font-size="16.3" fill="#5a5a5a" style="letter-spacing:0.532px" xml:space="preserve">276.00</text>
<text transform="translate(668.30,1190.20) scale(1.0947,1)" font-size="16.3" fill="#5a5a5a" xml:space="preserve">HIGH=</text>
<text transform="translate(742.70,1190.20) scale(1.2200,1)" font-size="16.3" fill="#5a5a5a" style="letter-spacing:0.352px" xml:space="preserve">404.00</text>
<text transform="translate(851.70,1190.20) scale(1.0841,1)" font-size="16.3" fill="#5a5a5a" xml:space="preserve">INTERVAL=</text>
<text transform="translate(972.70,1190.20) scale(1.2200,1)" font-size="16.3" fill="#5a5a5a" style="letter-spacing:0.467px" xml:space="preserve">4.0000</text>
<g fill="none" stroke="#000" stroke-width="1.6" stroke-linecap="round">
<path d="M1234.4 1165.9L1143.3 1165.9M1143.3 1165.9L1163.8 1175.9M1143.3 1165.9L1163.8 1155.9"/>
<path d="M1234.4 1165.9L1234.4 1121.7M1234.4 1121.7L1229.6 1131.6M1234.4 1121.7L1239.2 1131.6"/>
</g>
</svg></body></html>
